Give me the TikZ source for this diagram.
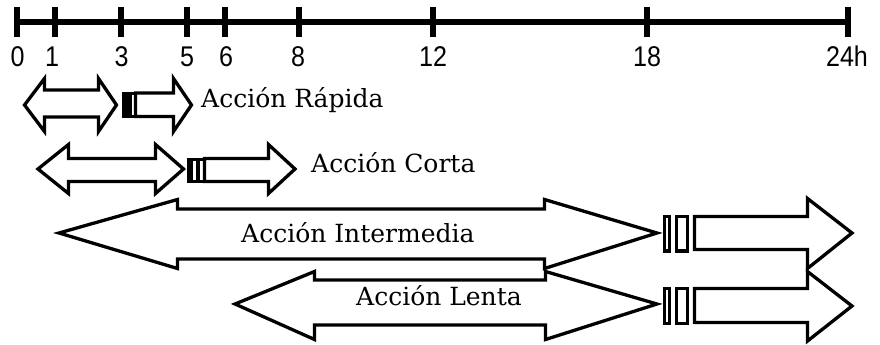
\documentclass[tikz,border=0pt]{standalone}
\usepackage{fontspec}
\setmainfont{DejaVu Serif}
\newfontfamily\axisfont[FakeStretch=0.88]{Liberation Sans}
\begin{document}
\begin{tikzpicture}[x=1pt,y=-1pt,
  axisline/.style={line width=6pt},
  tickmark/.style={line width=6.5pt},
  ticklabel/.style={font=\axisfont\fontsize{28.5}{29}\selectfont, anchor=base, inner sep=0pt},
  arrowbody/.style={draw, line width=3.3pt, fill=white, line join=miter},
  blk/.style={draw, line width=3.3pt, fill=white},
  lbl/.style={font=\fontsize{25}{26}\selectfont, anchor=base west, inner sep=0pt}]
\useasboundingbox (0,0) rectangle (880,345);
% axis
\draw[axisline] (17,22) -- (848,22);
\foreach \x/\t/\lx in {17/0/17.5, 55/1/52, 121/3/121.5, 187/5/187, 225/6/226, 299/8/298, 433/12/433, 647/18/647, 848/24h/847}{
  \draw[tickmark] (\x,7) -- (\x,37);
  \node[ticklabel] (t\t) at (\lx,66.5) {\t};
}
% row 1 : Accion Rapida
\draw[arrowbody] (24.5,105) -- (44.5,78.5) -- (44.5,90) -- (98.5,90) -- (98.5,78.5) -- (116.5,105)
  -- (98.5,131.5) -- (98.5,117) -- (44.5,117) -- (44.5,131.5) -- cycle;
\draw[blk] (124,93.5) rectangle (135.5,116.5);
\fill (122.5,92) rectangle (132,118);
\draw[arrowbody] (135.5,93) -- (173.5,93) -- (173.5,78.5) -- (191.5,105) -- (173.5,131.5) -- (173.5,116.5) -- (135.5,116.5) -- cycle;
\node[lbl] (rapida) at (201,107) {Acción Rápida};
% row 2 : Accion Corta
\draw[arrowbody] (38,169) -- (68.5,144.5) -- (68.5,158.5) -- (155.5,158.5) -- (155.5,144.5) -- (183.5,169)
  -- (155.5,193.5) -- (155.5,181.5) -- (68.5,181.5) -- (68.5,193.5) -- cycle;
\draw[blk] (188.5,159.5) rectangle (204.5,181.5);
\fill (187,158) rectangle (193,183);
\draw[line width=3.3pt] (198,158) -- (198,183);
\draw[arrowbody] (204.5,158.5) -- (268.5,158.5) -- (268.5,144.5) -- (295,169) -- (268.5,193.5) -- (268.5,181.5) -- (204.5,181.5) -- cycle;
\node[lbl] (corta) at (311,172) {Acción Corta};
% row 3 : Accion Intermedia
\draw[arrowbody] (59,233) -- (177.5,199.5) -- (177.5,209) -- (544.5,209) -- (544.5,199.5) -- (657,233)
  -- (544.5,268.5) -- (544.5,259) -- (177.5,259) -- (177.5,268.5) -- cycle;
\draw[blk] (664.5,216.5) rectangle (669.5,251);
\draw[blk] (676.5,216.5) rectangle (687.5,251);
\draw[arrowbody] (694.5,216.5) -- (807.5,216.5) -- (807.5,198.5) -- (852,233) -- (807.5,268.5) -- (807.5,249.5) -- (694.5,249.5) -- cycle;
\node[lbl] (intermedia) at (241,242) {Acción Intermedia};
% row 4 : Accion Lenta
\draw[arrowbody] (235,304) -- (314.5,271.5) -- (314.5,280) -- (545.5,280) -- (545.5,271.5) -- (657,304)
  -- (545.5,339.5) -- (545.5,325) -- (314.5,325) -- (314.5,339.5) -- cycle;
\draw[blk] (664.5,288.5) rectangle (669.5,323.5);
\draw[blk] (676.5,288.5) rectangle (687.5,323.5);
\draw[arrowbody] (694.5,288.5) -- (807.5,288.5) -- (807.5,271.5) -- (852,306) -- (807.5,341) -- (807.5,322.5) -- (694.5,322.5) -- cycle;
\node[lbl] (lenta) at (356,305) {Acción Lenta};
\end{tikzpicture}
\end{document}
